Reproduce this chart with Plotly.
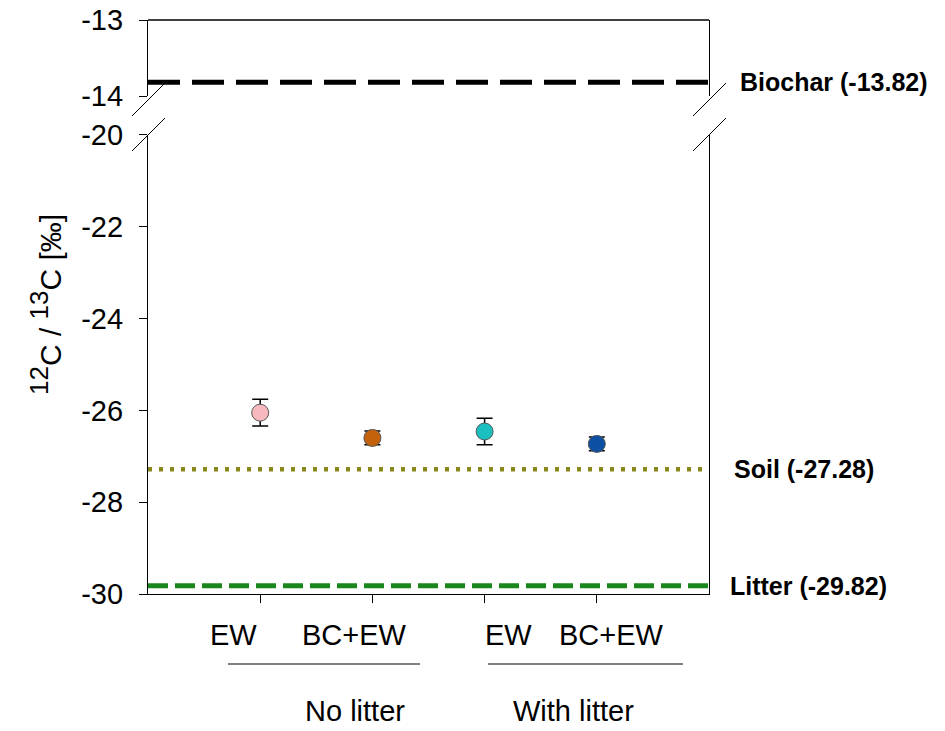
import plotly.graph_objects as go

# ---------------- data ----------------
treatments = ["EW", "BC+EW", "EW", "BC+EW"]
groups = ["No litter", "With litter"]
x_pos = [1, 2, 3, 4]
means = [-26.05, -26.60, -26.46, -26.73]
errors = [0.29, 0.15, 0.29, 0.15]
point_colors = ["#F7B9BD", "#C4620C", "#1BBFBF", "#0D4FA3"]

ref_names = ["Biochar", "Soil", "Litter"]
ref_values = [-13.82, -27.28, -29.82]

lower_ticks = [-30, -28, -26, -24, -22, -20]
upper_ticks = [-14, -13]
lower_tick_text = ["-30", "-28", "-26", "-24", "-22", "-20"]
upper_tick_text = ["-14", "-13"]

FONT = "Liberation Sans, Arial, sans-serif"

fig = go.Figure()

# reference lines
fig.add_trace(go.Scatter(x=[0, 5], y=[ref_values[0]] * 2, yaxis="y2", mode="lines",
                         line=dict(color="black", width=5, dash="32px,12px"),
                         hoverinfo="skip", showlegend=False))
fig.add_trace(go.Scatter(x=[0, 5], y=[ref_values[1]] * 2, mode="lines",
                         line=dict(color="#87871A", width=4.5, dash="4px,7px"),
                         hoverinfo="skip", showlegend=False))
fig.add_trace(go.Scatter(x=[0, 5], y=[ref_values[2]] * 2, mode="lines",
                         line=dict(color="#1B861B", width=5, dash="20px,7px"),
                         hoverinfo="skip", showlegend=False))

# data points
fig.add_trace(go.Scatter(
    x=x_pos, y=means, mode="markers",
    marker=dict(size=17, color=point_colors, line=dict(color="#555555", width=1)),
    error_y=dict(type="data", array=errors, visible=True, color="black",
                 thickness=1.5, width=8),
    showlegend=False))

# ---------------- layout ----------------
y_low_top = 0.7997
y_up_bot = 0.8676

fig.update_layout(
    width=945, height=731,
    margin=dict(l=148, r=236, t=20, b=137, autoexpand=False),
    paper_bgcolor="white", plot_bgcolor="white",
    font=dict(family=FONT, size=29, color="black"),
    xaxis=dict(range=[0, 5], tickvals=x_pos, showticklabels=False, ticks="outside",
               ticklen=8, tickwidth=1, tickcolor="black", showline=True,
               linecolor="black", linewidth=1.3, showgrid=False, zeroline=False,
               automargin=False, fixedrange=True),
    yaxis=dict(domain=[0, y_low_top], range=[-30, -20], tickvals=lower_ticks,
               ticktext=lower_tick_text,
               ticks="outside", ticklen=8, tickwidth=1, tickcolor="black",
               showline=True, mirror=True, linecolor="black", linewidth=1.3,
               showgrid=False, zeroline=False, ticklabelstandoff=10,
               automargin=False, tickfont=dict(size=29)),
    yaxis2=dict(domain=[y_up_bot, 1], range=[-14, -13], tickvals=upper_ticks,
                ticktext=upper_tick_text,
                ticks="outside", ticklen=8, tickwidth=1, tickcolor="black",
                showline=True, mirror=True, linecolor="black", linewidth=1.3,
                showgrid=False, zeroline=False, anchor="x", ticklabelstandoff=10,
                automargin=False, tickfont=dict(size=29)),
)

shapes = []
# top border
shapes.append(dict(type="line", xref="paper", yref="paper", x0=0, x1=1, y0=1, y1=1,
                   line=dict(color="black", width=1.3)))


def px2paper_x(px):
    return (px - 148) / 561.0


def px2paper_y(py):
    return (594 - py) / 574.0


# axis break slashes
for xc in (148, 709):
    for yc in (99.5, 134.5):
        shapes.append(dict(type="line", xref="paper", yref="paper",
                           x0=px2paper_x(xc - 16), y0=px2paper_y(yc + 16.5),
                           x1=px2paper_x(xc + 17), y1=px2paper_y(yc - 16.5),
                           line=dict(color="black", width=1)))

# group underlines
for x0, x1 in ((0.713, 2.424), (3.03, 4.768)):
    shapes.append(dict(type="line", xref="x", yref="paper", x0=x0, x1=x1,
                       y0=px2paper_y(664), y1=px2paper_y(664),
                       line=dict(color="black", width=1)))
fig.update_layout(shapes=shapes)

annotations = []
# treatment labels
label_shift = [-27, -18, 24, 15]
for xp, lab, sh in zip(x_pos, treatments, label_shift):
    annotations.append(dict(x=xp, y=px2paper_y(635), xref="x", yref="paper",
                            text=lab, showarrow=False, xshift=sh,
                            xanchor="center", yanchor="middle",
                            font=dict(size=29)))
# group labels
for gx, g, sh in zip([1.5, 3.5], groups, [39, 33]):
    annotations.append(dict(x=gx, y=px2paper_y(711), xref="x", yref="paper",
                            text=g, showarrow=False, xshift=sh,
                            xanchor="center", yanchor="middle",
                            font=dict(size=29)))
# reference labels
ref_axes = ["y2", "y", "y"]
ref_x = [738, 732, 728]
for name, val, ax, rx in zip(ref_names, ref_values, ref_axes, ref_x):
    annotations.append(dict(x=px2paper_x(rx), y=val, xref="paper", yref=ax,
                            text=f"<b>{name} ({val:.2f})</b>", showarrow=False,
                            xanchor="left", yanchor="middle",
                            font=dict(size=25)))
# y-axis title
annotations.append(dict(x=px2paper_x(45), y=px2paper_y(305), xref="paper", yref="paper",
                        text="<sup><span style='font-size:26px'>12</span></sup>C / "
                             "<sup><span style='font-size:26px'>13</span></sup>C [‰]",
                        textangle=-90,
                        showarrow=False, xanchor="center", yanchor="middle",
                        font=dict(size=30)))
fig.update_layout(annotations=annotations)

fig.write_html("out.html")
